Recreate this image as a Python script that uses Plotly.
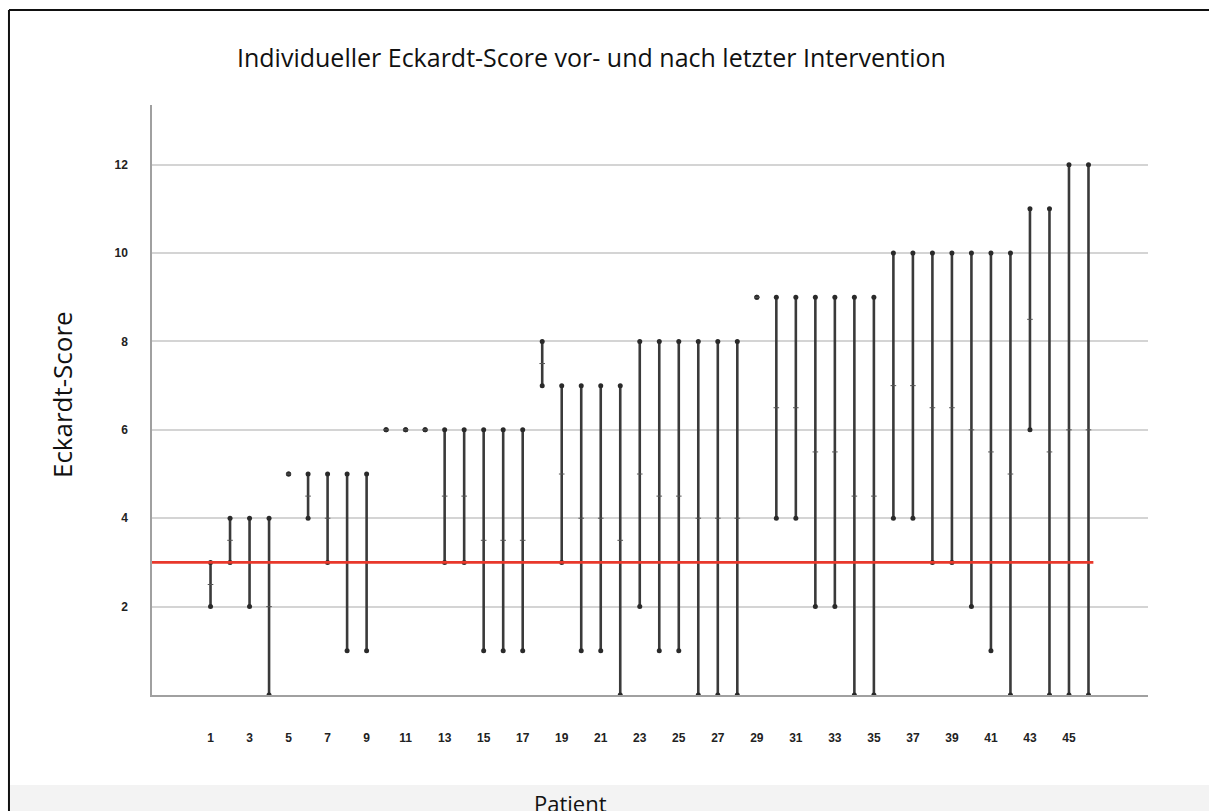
import plotly.graph_objects as go

patients = list(range(1, 47))
score_vor = [3, 4, 4, 4, 5, 5, 5, 5, 5, 6, 6, 6, 6, 6, 6, 6, 6, 8, 7, 7, 7, 7, 8,
             8, 8, 8, 8, 8, 9, 9, 9, 9, 9, 9, 9, 10, 10, 10, 10, 10, 10, 10, 11, 11, 12, 12]
score_nach = [2, 3, 2, 0, 5, 4, 3, 1, 1, 6, 6, 6, 3, 3, 1, 1, 1, 7, 3, 1, 1, 0, 2,
              1, 1, 0, 0, 0, 9, 4, 4, 2, 2, 0, 0, 4, 4, 3, 3, 2, 1, 0, 6, 0, 0, 0]
threshold = 3
y_ticks = [2, 4, 6, 8, 10, 12]
x_ticks = list(range(1, 46, 2))

title_text = "Individueller Eckardt-Score vor- und nach letzter Intervention"
y_title = "Eckardt-Score"
x_title = "Patient"

xs, ys = [], []
for p, a, b in zip(patients, score_vor, score_nach):
    xs += [p, p, None]
    ys += [a, b, None]

mid = [(a + b) / 2 for a, b in zip(score_vor, score_nach)]

fig = go.Figure()
fig.add_trace(go.Scatter(x=xs, y=ys, mode="lines",
                         line=dict(color="#3a3a3a", width=2.6),
                         hoverinfo="skip", showlegend=False))
fig.add_trace(go.Scatter(x=patients + patients, y=score_vor + score_nach, mode="markers",
                         marker=dict(symbol="circle", size=5, color="#2a2a2a"),
                         showlegend=False))
fig.add_trace(go.Scatter(x=patients, y=mid, mode="markers",
                         marker=dict(symbol="line-ew", size=4,
                                     line=dict(width=1, color="#555555")),
                         showlegend=False))

x_min, x_max = -2.0, 49.05
fig.add_shape(type="line", xref="x", yref="y", x0=x_min, x1=46.25, y0=threshold, y1=threshold,
              line=dict(color="#e8382b", width=2.6), layer="above")

# outer frame and bottom band
fig.add_shape(type="rect", xref="paper", yref="paper", x0=-0.1426, x1=1.07, y0=-0.1525, y1=-0.25,
              fillcolor="#f3f3f3", line=dict(width=0), layer="below")
fig.add_shape(type="line", xref="paper", yref="paper", x0=-0.1436, x1=1.07, y0=1.161, y1=1.161,
              line=dict(color="#111", width=2))
fig.add_shape(type="line", xref="paper", yref="paper", x0=-0.1436, x1=-0.1436, y0=1.161, y1=-0.25,
              line=dict(color="#111", width=2))

fig.add_annotation(text=title_text, xref="paper", yref="paper", x=0.4408, y=1.081,
                   showarrow=False, font=dict(family="Open Sans", size=25, color="#111"),
                   xanchor="center", yanchor="middle")
fig.add_annotation(text=y_title, xref="paper", yref="paper", x=-0.0904, y=0.51, textangle=-90,
                   showarrow=False, font=dict(family="Open Sans", size=26, color="#111"),
                   xanchor="center", yanchor="middle")
fig.add_annotation(text=x_title, xref="paper", yref="paper", x=0.4197, y=-0.183,
                   showarrow=False, font=dict(family="Open Sans", size=22, color="#111"),
                   xanchor="center", yanchor="middle")

fig.update_layout(
    width=1209, height=811,
    margin=dict(l=152, r=61, t=105, b=116),
    paper_bgcolor="white", plot_bgcolor="white",
    showlegend=False,
    xaxis=dict(range=[x_min, x_max], tickmode="array", tickvals=x_ticks,
               ticktext=[str(t) for t in x_ticks], showgrid=False, zeroline=False,
               showline=True, linecolor="#a0a0a0", linewidth=1.5,
               ticks="", ticklabelstandoff=31,
               tickfont=dict(family="Arial", size=12, color="#222", weight="bold")),
    yaxis=dict(range=[0, 13.35], tickmode="array", tickvals=y_ticks,
               ticktext=[str(t) for t in y_ticks], showgrid=True, gridcolor="#d4d4d4",
               gridwidth=1.5, zeroline=False, showline=True, linecolor="#a0a0a0",
               linewidth=1.5, ticks="", ticklabelstandoff=20,
               tickfont=dict(family="Arial", size=12, color="#222", weight="bold")),
)

fig.write_html("out.html", config={"displayModeBar": False},
               post_script="document.body.style.margin='0';document.body.style.overflow='hidden';")
